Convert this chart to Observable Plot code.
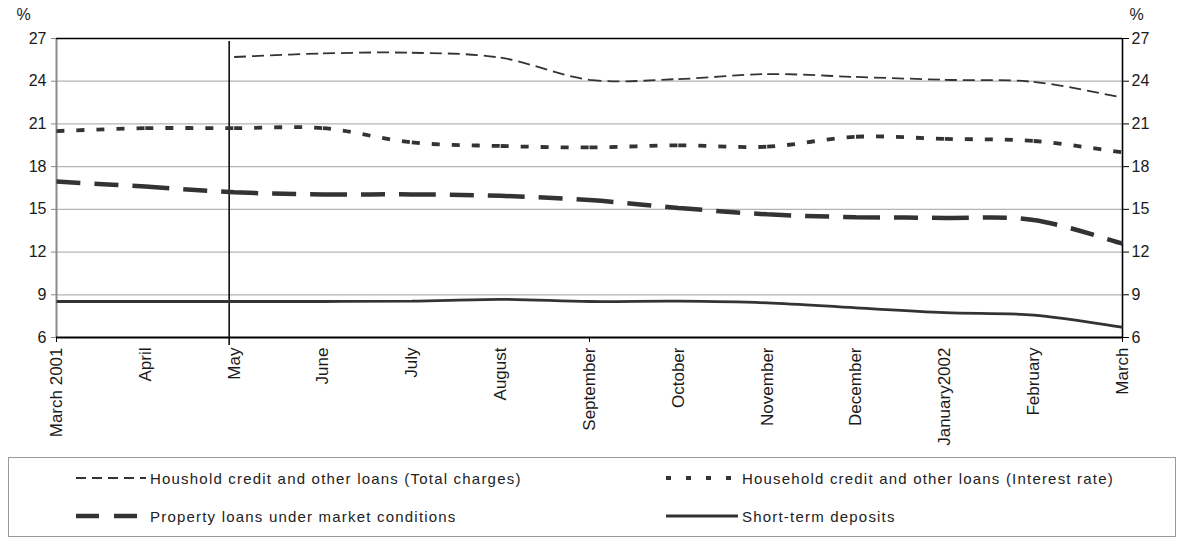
<!DOCTYPE html>
<html>
<head>
<meta charset="utf-8">
<script src="https://cdn.jsdelivr.net/npm/d3@7"></script>
<script src="https://cdn.jsdelivr.net/npm/@observablehq/plot@0.6"></script>
<style>
  body { margin: 0; background: #fff; font-family: "Liberation Sans", Arial, sans-serif; }
  #chart { position: relative; width: 1181px; height: 540px; }
  #chart > svg { display: block; }
  .legend { position: absolute; left: 8px; top: 457px; width: 1168px; height: 80px;
            border: 1px solid #9a9a9a; box-sizing: border-box; }
  .item { position: absolute; display: flex; align-items: center; height: 20px;
          font-size: 15px; letter-spacing: 1.2px; color: #222; white-space: nowrap; }
  .item svg { display: block; margin-right: 4px; }
</style>
</head>
<body>
<div id="chart"></div>
<script>
// Monthly rates, March 2001 – March 2002 (%)
const months = ["March 2001", "April", "May", "June", "July", "August", "September",
                "October", "November", "December", "January2002", "February", "March"];
const totalCharges      = [null, null, 25.7, 25.95, 26.0, 25.65, 24.1, 24.15, 24.5, 24.3, 24.1, 23.95, 22.85];
const interestRate      = [20.5, 20.7, 20.7, 20.7, 19.7, 19.45, 19.35, 19.5, 19.4, 20.1, 19.95, 19.8, 19.0];
const propertyLoans     = [16.95, 16.6, 16.2, 16.05, 16.05, 15.95, 15.65, 15.1, 14.65, 14.45, 14.4, 14.25, 12.6];
const shortTermDeposits = [8.53, 8.53, 8.53, 8.53, 8.55, 8.68, 8.53, 8.55, 8.43, 8.08, 7.75, 7.57, 6.72];
const yTicks = [6, 9, 12, 15, 18, 21, 24, 27];
const xTickMarks = [0, 6, 12];     // tick marks every six months
const markerMonth = "May";

const seriesNames = [
  "Houshold credit and other loans (Total charges)",
  "Household credit and other loans (Interest rate)",
  "Property loans under market conditions",
  "Short-term deposits"
];
const seriesValues = [totalCharges, interestRate, propertyLoans, shortTermDeposits];

// stroke styling per series (line chart / legend sample)
const styles = [
  { width: 1.8, dash: "12,6",  legendDash: "10,6" },
  { width: 3.8, dash: "8,12",  legendDash: "5,15" },
  { width: 4.5, dash: "24,14", legendDash: "23,15" },
  { width: 2.8, dash: null,    legendDash: null }
];

// Smooth (cardinal) curve drawn as one subpath per interval so that the
// dash pattern restarts at every data point.
function segmentedCardinal(context) {
  let pts = [];
  return {
    areaStart() {}, areaEnd() {},
    lineStart() { pts = []; },
    point(x, y) { pts.push([+x, +y]); },
    lineEnd() {
      const n = pts.length;
      for (let i = 0; i < n - 1; i++) {
        const p0 = pts[Math.max(0, i - 1)], p1 = pts[i], p2 = pts[i + 1], p3 = pts[Math.min(n - 1, i + 2)];
        context.moveTo(p1[0], p1[1]);
        context.bezierCurveTo(
          p1[0] + (p2[0] - p0[0]) / 6, p1[1] + (p2[1] - p0[1]) / 6,
          p2[0] - (p3[0] - p1[0]) / 6, p2[1] - (p3[1] - p1[1]) / 6,
          p2[0], p2[1]);
      }
    }
  };
}

const ink = "#333";
const idx = d3.range(months.length);

const lineMarks = seriesValues.map((vals, s) => {
  const data = idx.filter(i => vals[i] != null).map(i => ({ i, v: vals[i] }));
  return Plot.line(data, {
    x: "i", y: "v",
    stroke: ink,
    strokeWidth: styles[s].width,
    strokeDasharray: styles[s].dash ?? undefined,
    strokeLinecap: "butt",
    curve: segmentedCardinal
  });
});

const plot = Plot.plot({
  width: 1181,
  height: 452,
  marginTop: 38,
  marginBottom: 115,
  marginLeft: 56,
  marginRight: 59,
  style: { fontFamily: "'Liberation Sans', Arial, sans-serif", fontSize: "16px", color: "#111", background: "#fff" },
  x: { domain: [0, months.length - 1], axis: null },
  y: { domain: [6, 27], axis: null },
  marks: [
    Plot.gridY(yTicks.slice(1, -1), { stroke: "#b3b3b3", strokeOpacity: 1, strokeWidth: 1.2 }),
    Plot.ruleX([0], { stroke: "#8a8a8a", strokeWidth: 2 }),
    Plot.ruleY([27], { stroke: "#000", strokeWidth: 1.6 }),
    Plot.ruleY([6], { stroke: "#000", strokeWidth: 1.8 }),
    Plot.ruleX([months.length - 1], { stroke: "#000", strokeWidth: 1.6 }),
    Plot.axisY(yTicks, { anchor: "left", label: null, tickSize: 5, tickPadding: 5, stroke: "#8a8a8a", fill: "#1a1a1a", fontSize: 16 }),
    Plot.axisY(yTicks, { anchor: "right", label: null, tickSize: 6, tickPadding: 3, stroke: "#000", fill: "#1a1a1a", fontSize: 16 }),
    Plot.axisX(xTickMarks, { anchor: "bottom", label: null, tickSize: 5, stroke: "#000", tickFormat: () => "" }),
    Plot.axisX(idx, {
      anchor: "bottom", label: null, tickSize: 0, tickPadding: 10, tickRotate: -90,
      tickFormat: i => months[i], fill: "#1a1a1a", fontSize: 17
    }),
    Plot.ruleX([months.indexOf(markerMonth)], { stroke: "#000", strokeWidth: 1.5, dx: -5, insetTop: 3, insetBottom: -8 }),
    ...lineMarks,
    Plot.text(["%"], { frameAnchor: "top-left", textAnchor: "middle", lineAnchor: "middle", dx: -33, dy: -24, fontSize: 16, fill: "#1a1a1a" }),
    Plot.text(["%"], { frameAnchor: "top-right", textAnchor: "middle", lineAnchor: "middle", dx: 14, dy: -24, fontSize: 16, fill: "#1a1a1a" })
  ]
});

const chart = document.getElementById("chart");
chart.appendChild(plot);

// Legend: two columns, two rows
const legend = document.createElement("div");
legend.className = "legend";
chart.appendChild(legend);
const slots = [
  { left: 67, top: 10, sample: 70 },
  { left: 657, top: 10, sample: 72 },
  { left: 67, top: 48, sample: 70 },
  { left: 657, top: 48, sample: 72 }
];
seriesNames.forEach((name, s) => {
  const item = document.createElement("div");
  item.className = "item";
  item.style.left = slots[s].left + "px";
  item.style.top = slots[s].top + "px";
  const w = slots[s].sample;
  const svg = d3.create("svg").attr("width", w).attr("height", 12);
  svg.append("line")
    .attr("x1", 0).attr("x2", w).attr("y1", 6).attr("y2", 6)
    .attr("stroke", ink)
    .attr("stroke-width", Math.max(styles[s].width, 2))
    .attr("stroke-dasharray", styles[s].legendDash);
  item.appendChild(svg.node());
  const label = document.createElement("span");
  label.textContent = name;
  item.appendChild(label);
  legend.appendChild(item);
});
</script>
</body>
</html>
